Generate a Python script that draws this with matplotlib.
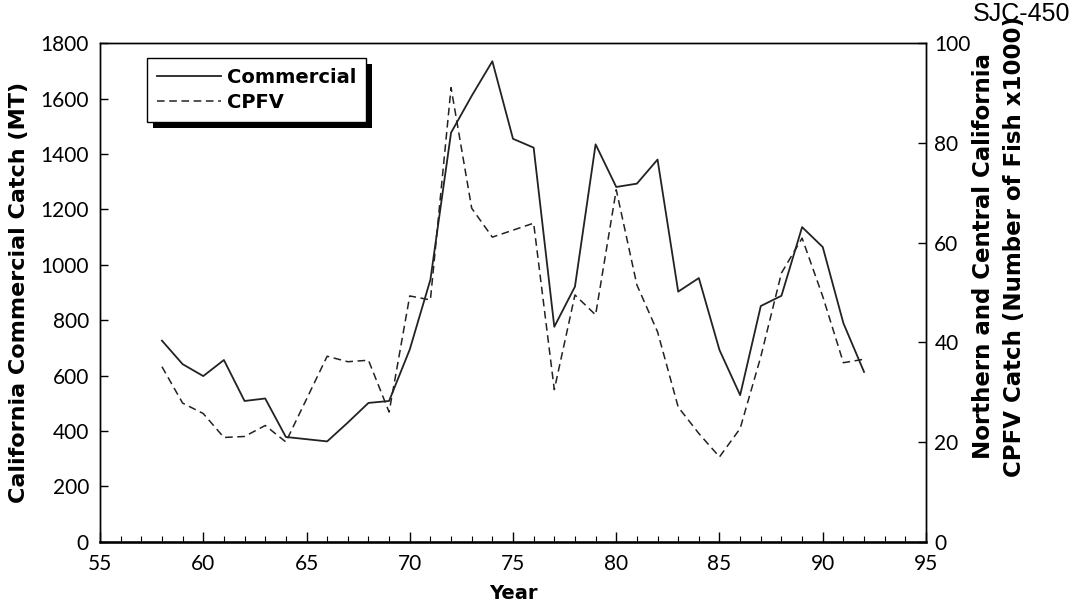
import numpy as np
import matplotlib
matplotlib.use('Agg')
import matplotlib.pyplot as plt
from matplotlib.ticker import MultipleLocator
from matplotlib.patches import Rectangle
from matplotlib.transforms import IdentityTransform

# data
years = list(range(58, 93))
commercial = [726, 641, 598, 656, 508, 517, 378, 370, 362, 430, 501, 508,
              694, 946, 1477, 1610, 1735, 1455, 1423, 776, 921, 1435, 1281,
              1293, 1380, 903, 952, 692, 529, 851, 888, 1136, 1064, 789, 613]
cpfv = [35.1, 27.8, 25.7, 20.9, 21.1, 23.3, 20.0, 28.6, 37.2, 36.1, 36.4,
        26.0, 49.3, 48.5, 91.1, 66.9, 61.1, 62.5, 63.9, 30.5, 49.5, 45.5,
        70.6, 51.5, 42.1, 27.0, 21.7, 17.0, 22.7, 37.1, 53.9, 60.9, 49.2,
        35.9, 36.6]

tick_font = ['Lato', 'DejaVu Sans']
label_font = ['DejaVu Sans']

fig = plt.figure(figsize=(10.8, 6.07), dpi=100)
ax = fig.add_axes([0.0926, 0.1077, 0.7648, 0.8210])
ax2 = ax.twinx()

l1, = ax.plot(years, commercial, color='#222222', lw=1.3, label='Commercial')
l2, = ax2.plot(years, cpfv, color='#222222', lw=1.1, ls=(0, (5, 3)), label='CPFV')

ax.set_xlim(55, 95)
ax.set_ylim(0, 1800)
ax2.set_ylim(0, 100)
ax.xaxis.set_major_locator(MultipleLocator(5))
ax.xaxis.set_minor_locator(MultipleLocator(1))
ax.yaxis.set_major_locator(MultipleLocator(200))
ax2.yaxis.set_major_locator(MultipleLocator(20))

ax.tick_params(axis='x', which='major', direction='in', length=7, width=1, pad=9)
ax.tick_params(axis='x', which='minor', direction='in', length=4, width=0.8)
ax.tick_params(axis='y', direction='in', length=6, width=1, pad=8)
ax2.tick_params(axis='y', direction='in', length=6, width=1, pad=6)
for a in (ax, ax2):
    for lab in a.get_xticklabels() + a.get_yticklabels():
        lab.set_family(tick_font)
        lab.set_fontsize(15)
        lab.set_color('black')
    for s in a.spines.values():
        s.set_linewidth(1.0)
ax.spines['bottom'].set_linewidth(1.8)

ax.set_xlabel('Year', family=label_font, fontweight='bold', fontsize=14, labelpad=7)
ax.set_ylabel('California Commercial Catch (MT)', family=label_font,
              fontweight='bold', fontsize=16, labelpad=8)

# right-hand label, two lines placed by hand like the original
fig.text(984 / 1080, 1 - 256 / 607, 'Northern and Central California',
         rotation=90, ha='center', va='center', family=label_font,
         fontweight='bold', fontsize=16.5)
fig.text(1014 / 1080, 1 - 247 / 607, 'CPFV Catch (Number of Fish x1000)',
         rotation=90, ha='center', va='center', family=label_font,
         fontweight='bold', fontsize=16.5)

leg = ax2.legend(handles=[l1, l2], loc='upper left', bbox_to_anchor=(0.057, 0.970),
                 frameon=True, fancybox=False,
                 prop={'family': label_font, 'weight': 'bold', 'size': 14},
                 handlelength=3.3, handletextpad=0.3, labelspacing=0.3,
                 borderpad=0.5, borderaxespad=0)
leg.get_frame().set_edgecolor('black')
leg.get_frame().set_linewidth(1.0)
leg.get_frame().set_alpha(1)
leg.set_zorder(5)

# heavy drop shadow under the legend box
fig.canvas.draw()
bb = leg.get_frame().get_window_extent()
shadow = Rectangle((bb.x0 + 6, bb.y0 - 6), bb.width, bb.height,
                   transform=IdentityTransform(), facecolor='black',
                   edgecolor='none', zorder=4.9)
ax2.add_artist(shadow)

fig.text(0.991, 0.997, 'SJC-450', ha='right', va='top', fontsize=18,
         family=['Liberation Sans', 'DejaVu Sans'])

fig.savefig('out.png', dpi=100)
